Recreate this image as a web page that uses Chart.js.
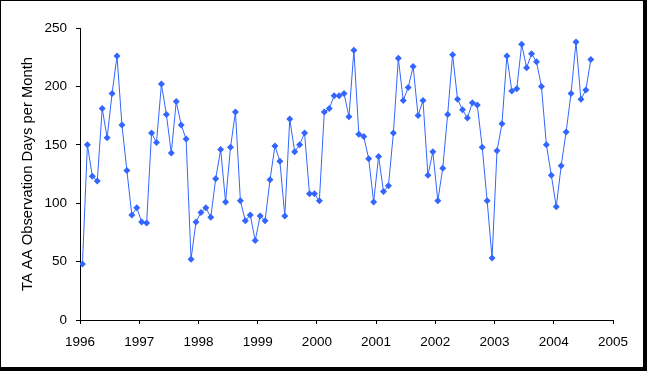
<!DOCTYPE html>
<html>
<head>
<meta charset="utf-8">
<script src="https://cdn.jsdelivr.net/npm/chart.js@4"></script>
<style>
  html, body { margin: 0; padding: 0; background: #fff; }
  #wrap { position: relative; width: 647px; height: 371px; }
  #frame { position: absolute; left: 0; top: 0; width: 647px; height: 371px; box-sizing: border-box;
           border-top: 1px solid #000; border-left: 1px solid #000;
           border-right: 4px solid #000; border-bottom: 4px solid #000; pointer-events: none; }
</style>
</head>
<body>
<div id="wrap">
  <canvas id="chart" width="647" height="371"></canvas>
  <div id="frame"></div>
</div>
<script>
// Monthly observation days, Jan 1996 .. Aug 2004
const startYear = 1996;
const obsDays = [
  48, 150, 123, 119, 181, 156, 194, 226, 167, 128, 90, 96,      // 1996
  84, 83, 160, 152, 202, 176, 143, 187, 167, 155, 52, 84,       // 1997
  92, 96, 88, 121, 146, 101, 148, 178, 102, 85, 90, 68,         // 1998
  89, 85, 120, 149, 136, 89, 172, 144, 150, 160, 108, 108,      // 1999
  102, 178, 181, 192, 192, 194, 174, 231, 159, 157, 138, 101,   // 2000
  140, 110, 115, 160, 224, 188, 199, 217, 175, 188, 124, 144,   // 2001
  102, 130, 176, 227, 189, 180, 173, 186, 184, 148, 102, 53,    // 2002
  145, 168, 226, 196, 198, 236, 216, 228, 221, 200, 150, 124,   // 2003
  97, 132, 161, 194, 238, 189, 197, 223                          // 2004
];
const yearTicks = [1996, 1997, 1998, 1999, 2000, 2001, 2002, 2003, 2004, 2005];

const blue = "#3366FF";
const font = { family: "Arial, 'Liberation Sans', sans-serif", size: 13.5 };
const titleFont = { family: "Arial, 'Liberation Sans', sans-serif", size: 14.8 };

// points sit mid-month
const points = obsDays.map((v, i) => ({ x: startYear + (i + 0.5) / 12, y: v }));

new Chart(document.getElementById("chart").getContext("2d"), {
  type: "line",
  data: {
    datasets: [{
      label: "TA AA",
      data: points,
      borderColor: blue,
      backgroundColor: blue,
      borderWidth: 1,
      pointStyle: "rectRot",
      pointRadius: 3.5,
      pointBorderWidth: 0,
      tension: 0
    }]
  },
  options: {
    responsive: false,
    animation: false,
    layout: { padding: { left: 0, top: 28, right: 34, bottom: 0 } },
    plugins: { legend: { display: false }, tooltip: { enabled: false } },
    scales: {
      x: {
        type: "linear",
        min: 1996,
        max: 2005,
        afterBuildTicks: (scale) => { scale.ticks = yearTicks.map(v => ({ value: v })); },
        afterFit: (scale) => { scale.height = 51; },
        grid: { drawOnChartArea: false, drawTicks: true, tickLength: 4, color: "#000" },
        border: { display: true, color: "#000", width: 1 },
        ticks: { color: "#000", font: font, padding: 10, maxRotation: 0, autoSkip: false,
                 callback: (v) => String(v) }
      },
      y: {
        min: 0,
        max: 250,
        afterFit: (scale) => { scale.width = 80; },
        grid: { drawOnChartArea: false, drawTicks: true, tickLength: 4, color: "#000" },
        border: { display: true, color: "#000", width: 1 },
        ticks: { color: "#000", font: font, stepSize: 50, padding: 9 },
        title: { display: true, text: "TA AA Observation Days per Month", color: "#000",
                 font: titleFont, padding: { top: 19, bottom: 0 } }
      }
    }
  }
});
</script>
</body>
</html>
